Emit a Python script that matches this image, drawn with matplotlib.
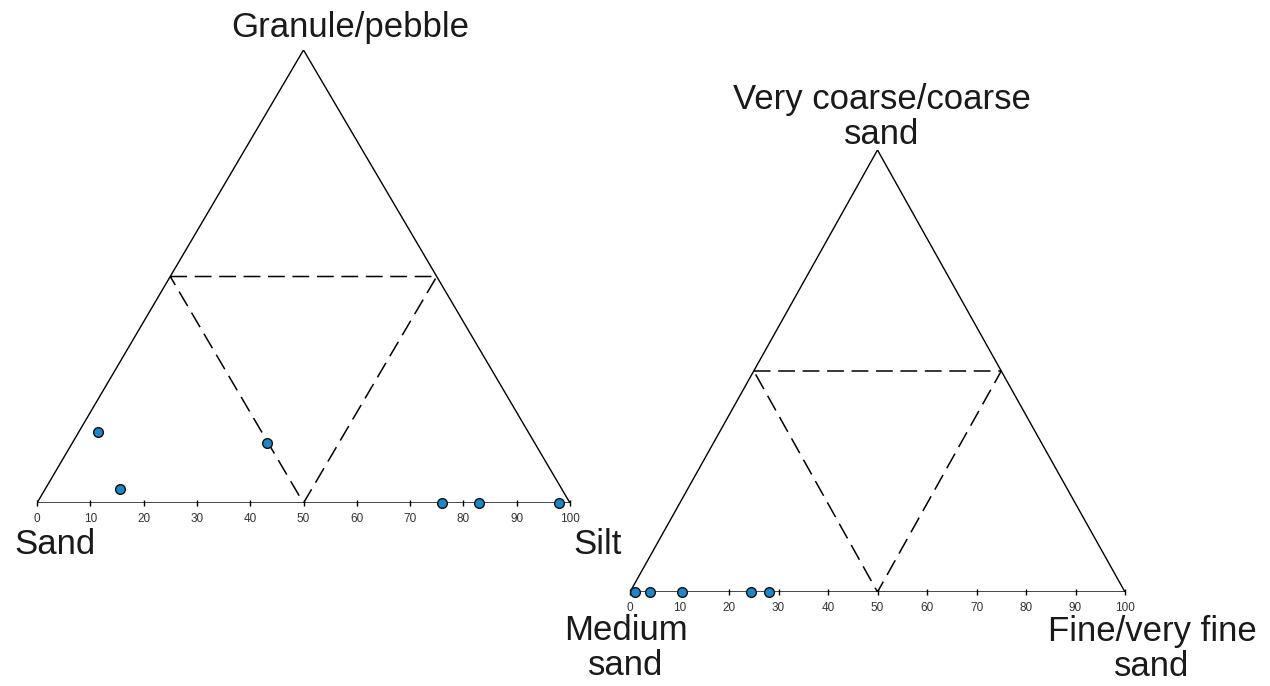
import numpy as np
import matplotlib
matplotlib.use("Agg")
import matplotlib.pyplot as plt

plt.rcParams['font.family'] = ['Liberation Sans', 'DejaVu Sans']

# grain size fractions (%) for the two ternary diagrams
# left: sand / silt / granule-pebble
left_sand = [80.8, 82.9, 50.2, 24, 17, 2]
left_silt = [3.6, 14.0, 36.6, 76, 83, 98]
left_gran = [15.6, 3.1, 13.2, 0, 0, 0]

# right: medium sand / fine-very fine sand / very coarse-coarse sand
right_med = [99, 96, 89.5, 75.5, 72]
right_fine = [1, 4, 10.5, 24.5, 28]
right_coarse = [0, 0, 0, 0, 0]

tick_vals = [0, 10, 20, 30, 40, 50, 60, 70, 80, 90, 100]

H = np.sqrt(3) / 2
W, HGT = 1270, 686


def tern(a, b, c):
    a, b, c = (np.asarray(v, dtype=float) for v in (a, b, c))
    tot = a + b + c
    return (b + c / 2) / tot, c * H / tot


def draw_triangle(ax, s1, s2, s3):
    # outer frame
    x, y = tern([100, 0, 0, 100], [0, 100, 0, 0], [0, 0, 100, 0])
    ax.plot(x, y, color='black', lw=1.0, solid_joinstyle='miter')
    # inner dashed triangle joining the midpoints
    x, y = tern([50, 0, 50, 50], [0, 50, 50, 0], [50, 50, 0, 50])
    ax.plot(x, y, color='black', lw=1.1, dashes=(11, 5))
    x, y = tern(s1, s2, s3)
    ax.plot(x, y, 'o', ms=7, mfc='#1f86c6', mec='#111111', mew=1.0,
            clip_on=False, zorder=5)
    ax.set_xlim(0, 1)
    ax.set_ylim(0, H)
    for sp in ax.spines.values():
        sp.set_visible(False)
    ax.set_yticks([])
    ax.set_xticks(np.array(tick_vals) / 100)
    ax.set_xticklabels([str(t) for t in tick_vals], fontsize=8.5, color='#333333')
    ax.tick_params(axis='x', direction='inout', length=5, width=1.0, pad=5)
    ax.patch.set_visible(False)


fig = plt.figure(figsize=(12.7, 6.86), dpi=100)


def px_axes(x0, x1, ybase, ytop):
    return fig.add_axes([x0 / W, (HGT - ybase) / HGT,
                         (x1 - x0) / W, (ybase - ytop) / HGT])


def px_text(x, y, s, **kw):
    fig.text(x / W, 1 - y / HGT, s, ha='center', va='center',
             fontsize=25, color='#1a1a1a', linespacing=1.05, **kw)


ax1 = px_axes(37, 570, 503, 50)
draw_triangle(ax1, left_sand, left_silt, left_gran)

ax2 = px_axes(630, 1125, 592, 150)
draw_triangle(ax2, right_med, right_fine, right_coarse)

px_text(350, 28, 'Granule/pebble')
px_text(55, 545, 'Sand')
px_text(598, 545, 'Silt')
px_text(882, 117, 'Very coarse/coarse\nsand')
px_text(626, 648, 'Medium\nsand')
px_text(1152, 649, 'Fine/very fine\nsand')

fig.savefig('out.png', dpi=100)
